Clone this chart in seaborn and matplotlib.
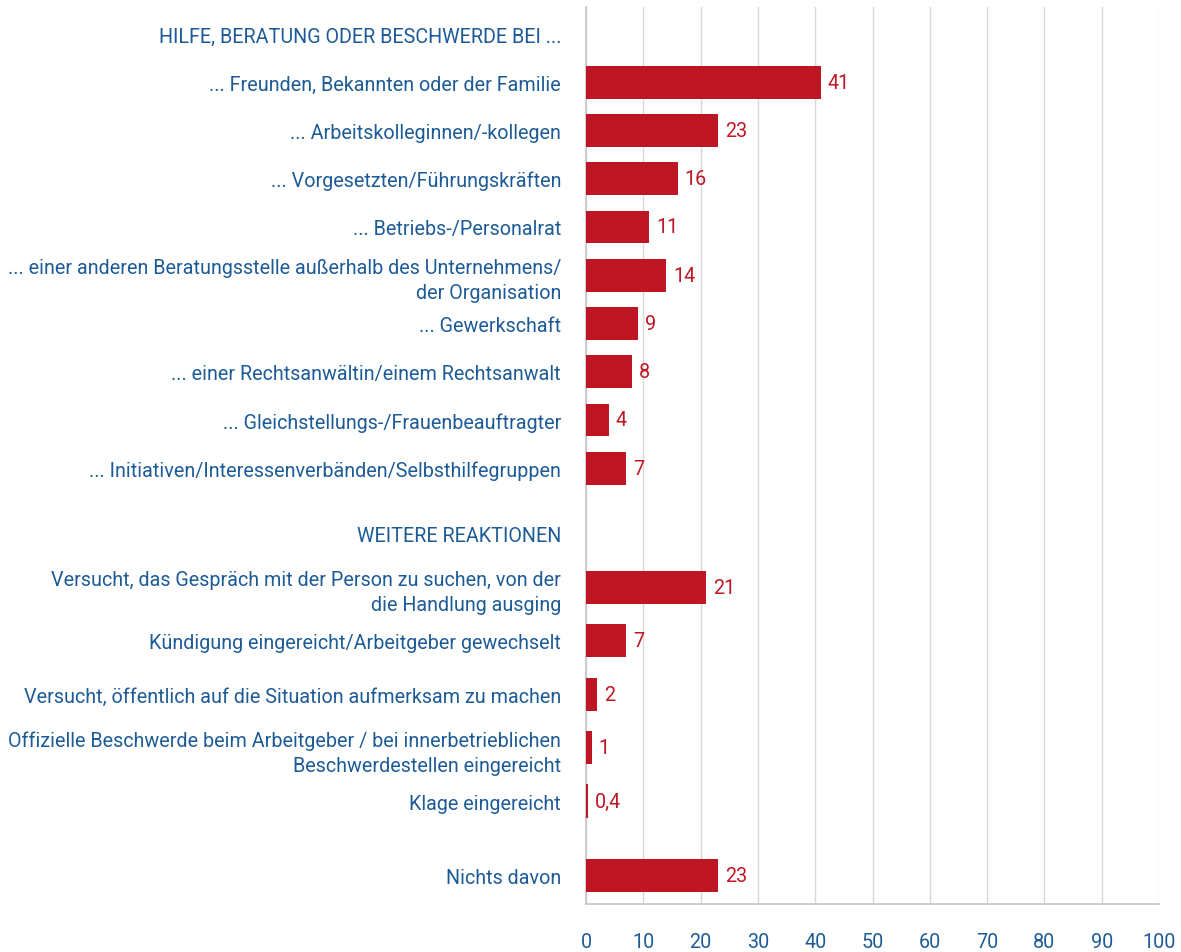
import matplotlib
matplotlib.use("Agg")
import matplotlib.pyplot as plt
import seaborn as sns
import pandas as pd
import numpy as np

# values in percent
header_hilfe = "HILFE, BERATUNG ODER BESCHWERDE BEI ..."
labels_hilfe = [
    "... Freunden, Bekannten oder der Familie",
    "... Arbeitskolleginnen/-kollegen",
    "... Vorgesetzten/Führungskräften",
    "... Betriebs-/Personalrat",
    "... einer anderen Beratungsstelle außerhalb des Unternehmens/\nder Organisation",
    "... Gewerkschaft",
    "... einer Rechtsanwältin/einem Rechtsanwalt",
    "... Gleichstellungs-/Frauenbeauftragter",
    "... Initiativen/Interessenverbänden/Selbsthilfegruppen",
]
values_hilfe = [41, 23, 16, 11, 14, 9, 8, 4, 7]

header_weitere = "WEITERE REAKTIONEN"
labels_weitere = [
    "Versucht, das Gespräch mit der Person zu suchen, von der\ndie Handlung ausging",
    "Kündigung eingereicht/Arbeitgeber gewechselt",
    "Versucht, öffentlich auf die Situation aufmerksam zu machen",
    "Offizielle Beschwerde beim Arbeitgeber / bei innerbetrieblichen\nBeschwerdestellen eingereicht",
    "Klage eingereicht",
]
values_weitere = [21, 7, 2, 1, 0.4]

labels_nichts = ["Nichts davon"]
values_nichts = [23]

x_ticks = list(range(0, 101, 10))

RED = "#BE1622"
BLUE = "#1D5B97"
GRID = "#D9D9D9"
AXIS = "#C8C8C8"
FS = 14.2

sns.set_theme(style="white")
plt.rcParams["font.family"] = ["Roboto", "DejaVu Sans"]
plt.rcParams["font.size"] = FS


def fmt(v):
    return f"{v:g}".replace(".", ",")


def panel(ax, header, labels, values, width, ylim, last=False):
    cats = ([header] if header else []) + labels
    vals = ([np.nan] if header else []) + values
    df = pd.DataFrame({"kategorie": cats, "anteil": vals})
    sns.barplot(data=df, y="kategorie", x="anteil", order=cats, color=RED,
                saturation=1, width=width, errorbar=None, linewidth=0,
                ax=ax, zorder=3)
    bars = [b for b in ax.containers[0] if b is not None]
    for b, v in zip(bars, values):
        ax.annotate(fmt(v), (b.get_width(), b.get_y() + b.get_height() / 2),
                    xytext=(5, 0), textcoords="offset points", va="center",
                    color=RED, fontsize=FS)
    ax.set_xlim(0, 100)
    ax.set_ylim(*ylim)
    ax.set_xticks(x_ticks)
    ax.set_xlabel("")
    ax.set_ylabel("")
    ax.grid(axis="x", color=GRID, lw=1, zorder=0)
    ax.grid(axis="y", visible=False)
    for s in ["top", "right", "bottom"]:
        ax.spines[s].set_visible(False)
    ax.spines["left"].set_color(AXIS)
    ax.tick_params(axis="y", length=0, pad=18, labelcolor=BLUE, labelsize=FS)
    for t in ax.get_yticklabels():
        t.set_multialignment("right")
        t.set_linespacing(1.4)
    if last:
        ax.spines["bottom"].set_visible(True)
        ax.spines["bottom"].set_color(AXIS)
        ax.tick_params(axis="x", length=0, pad=20, labelcolor=BLUE, labelsize=FS)
    else:
        ax.tick_params(axis="x", length=0, labelbottom=False)


fig = plt.figure(figsize=(11.81, 9.53), dpi=100)
left, w = 0.4962, 0.4852
ax1 = fig.add_axes([left, 0.4753, w, 0.5163])
ax2 = fig.add_axes([left, 0.1186, w, 0.3568])
ax3 = fig.add_axes([left, 0.0504, w, 0.0682])

panel(ax1, header_hilfe, labels_hilfe, values_hilfe, 0.68, (9.64, -0.56))
panel(ax2, header_weitere, labels_weitere, values_weitere, 0.62, (5.71, -0.655))
panel(ax3, None, labels_nichts, values_nichts, 0.6, (0.509, -0.673), last=True)

fig.savefig("out.png", dpi=100)
